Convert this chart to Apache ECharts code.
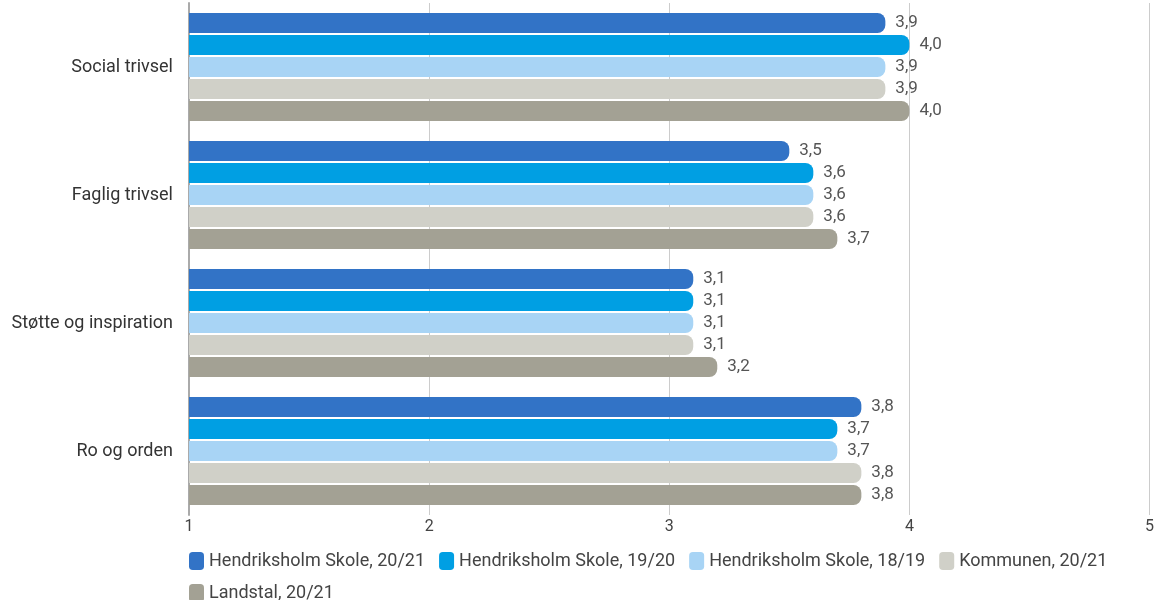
<!DOCTYPE html>
<html><head><meta charset="utf-8">
<script src="https://cdn.jsdelivr.net/npm/echarts@6/dist/echarts.min.js"></script>
<style>html,body{margin:0;padding:0;background:#fff}#c{width:1157px;height:600px}</style>
</head><body><div id="c"></div>
<script>
const categories = ['Social trivsel', 'Faglig trivsel', 'Støtte og inspiration', 'Ro og orden'];
const seriesNames = ['Hendriksholm Skole, 20/21', 'Hendriksholm Skole, 19/20', 'Hendriksholm Skole, 18/19', 'Kommunen, 20/21', 'Landstal, 20/21'];
const hs2021 = [3.9, 3.5, 3.1, 3.8];
const hs1920 = [4.0, 3.6, 3.1, 3.7];
const hs1819 = [3.9, 3.6, 3.1, 3.7];
const kommunen = [3.9, 3.6, 3.1, 3.8];
const landstal = [4.0, 3.7, 3.2, 3.8];
const xTicks = [1, 2, 3, 4, 5];
const colors = ['#3273C6', '#009FE3', '#A8D4F5', '#D0D0C8', '#A3A194'];
const values = [hs2021, hs1920, hs1819, kommunen, landstal];

const chart = echarts.init(document.getElementById('c'));
chart.setOption({
  animation: false,
  textStyle: { fontFamily: 'Roboto' },
  grid: { left: 189, right: 7, top: 3, height: 512 },
  legend: {
    left: 184, top: 547, width: 960,
    itemWidth: 15, itemHeight: 18, itemGap: 14,
    icon: 'roundRect',
    textStyle: { fontSize: 18, color: '#444', fontFamily: 'Roboto' },
    data: seriesNames
  },
  xAxis: {
    type: 'value', min: xTicks[0], max: xTicks[xTicks.length - 1], interval: 1,
    axisLine: { show: false }, axisTick: { show: false },
    splitLine: { lineStyle: { color: '#cccccc', width: 1 } },
    axisLabel: { fontSize: 16, color: '#444', margin: 4 }
  },
  yAxis: {
    type: 'category', data: categories, inverse: true,
    axisLine: { show: true, lineStyle: { color: '#aaaaaa', width: 2 } },
    axisTick: { show: false },
    axisLabel: { fontSize: 18, color: '#333', margin: 16 }
  },
  series: seriesNames.map((n, i) => ({
    name: n, type: 'bar', data: values[i],
    barWidth: 20, barGap: '10%',
    itemStyle: { color: colors[i], borderRadius: [0, 8, 8, 0] },
    label: {
      show: true, position: 'right', distance: 10,
      fontSize: 17, color: '#555',
      formatter: p => p.value.toFixed(1).replace('.', ',')
    }
  }))
});
</script></body></html>
